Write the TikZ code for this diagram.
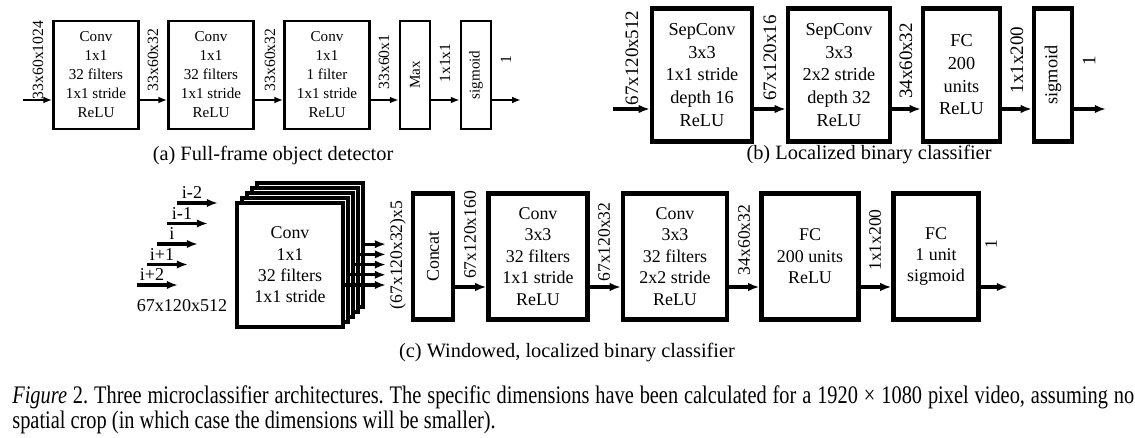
\documentclass[tikz,border=0pt]{standalone}
\usepackage{fontspec}
\setmainfont{Liberation Serif}
\usetikzlibrary{arrows.meta}
\tikzset{%
    box size/.style 2 args={%
        minimum width=#1*0.02cm,
        minimum height=#2*0.02cm
    },
    layer a/.style={draw, fill=white, line width=1.4pt, inner sep=0pt, align=center,
        font=\fontsize{8.6}{10.8}\selectfont},
    layer b/.style={draw, fill=white, line width=2.4pt, inner sep=0pt, align=center,
        font=\fontsize{10.4}{12.9}\selectfont},
    layer c/.style={draw, fill=white, line width=2.3pt, inner sep=0pt, align=center,
        font=\fontsize{10.2}{12.2}\selectfont},
    arrow a/.style={-{Latex[length=5pt, width=3.8pt]}, line width=1.3pt},
    arrow b/.style={-{Latex[length=6.4pt, width=4.8pt]}, line width=2pt},
    arrow c/.style={-{Latex[length=6.4pt, width=4.8pt]}, line width=1.8pt},
    dim a/.style={rotate=90, inner sep=0pt, font=\fontsize{8.9}{10}\selectfont},
    dim b/.style={rotate=90, inner sep=0pt, font=\fontsize{10.8}{12}\selectfont},
    dim c/.style={rotate=90, inner sep=0pt, font=\fontsize{10}{12}\selectfont},
    frame lab/.style={inner sep=0pt, font=\fontsize{10.3}{12}\selectfont},
    sub cap/.style={inner sep=0pt, font=\fontsize{11.6}{13}\selectfont},
    fig cap/.style={inner sep=0pt, text width=22.44cm, align=justify,
        yscale=1.24, transform shape,
        font=\fontsize{11.6}{10.5}\selectfont\frenchspacing}
}

\begin{document}
\begin{tikzpicture}[x=0.02cm, y=-0.02cm]
\fill[white] (0,0) rectangle (1135,438);

% (a) full-frame object detector
\coordinate (ya) at (0,100);
\node[layer a, box size={85}{108}] (a1) at (96,75) {Conv\\1x1\\32 filters\\1x1 stride\\ReLU};
\node[layer a, box size={85}{108}] (a2) at (211,75) {Conv\\1x1\\32 filters\\1x1 stride\\ReLU};
\node[layer a, box size={85}{108}] (a3) at (327,75) {Conv\\1x1\\1 filter\\1x1 stride\\ReLU};
\node[layer a, box size={30}{108}] (a4) at (415,75) {\rotatebox{90}{Max}};
\node[layer a, box size={30}{108}] (a5) at (476,75) {\rotatebox{90}{sigmoid}};
\coordinate (ain) at (23,100);
\coordinate (aout) at (521,100);
\draw[arrow a] (ain) -- (a1.west |- ya);
\foreach \i [count=\j from 2] in {1,...,4}
    \draw[arrow a] (a\i.east |- ya) -- (a\j.west |- ya);
\draw[arrow a] (a5.east |- ya) -- (aout);
\node[dim a] (da0) at (38,60) {33x60x1024};
\node[dim a] (da1) at (153,60) {33x60x32};
\node[dim a] (da2) at (270,60) {33x60x32};
\node[dim a] (da3) at (384,62) {33x60x1};
\node[dim a] (da4) at (445,63) {1x1x1};
\node[dim a] (da5) at (506,60) {1};
\node[sub cap] (capa) at (273,155) {(a) Full-frame object detector};

% (b) localized binary classifier
\coordinate (yb) at (0,109);
\node[layer b, box size={100}{133}] (b1) at (702,75) {SepConv\\3x3\\1x1 stride\\depth 16\\ReLU};
\node[layer b, box size={102}{133}] (b2) at (839,75) {SepConv\\3x3\\2x2 stride\\depth 32\\ReLU};
\node[layer b, box size={77}{133}] (b3) at (961.5,75) {FC\\200\\units\\ReLU};
\node[layer b, box size={38}{133}] (b4) at (1053,75) {\rotatebox{90}{sigmoid}};
\coordinate (bin) at (613,109);
\coordinate (bout) at (1106,109);
\draw[arrow b] (bin) -- (b1.west |- yb);
\foreach \i [count=\j from 2] in {1,...,3}
    \draw[arrow b] (b\i.east |- yb) -- (b\j.west |- yb);
\draw[arrow b] (b4.east |- yb) -- (bout);
\node[dim b] (db0) at (632,58) {67x120x512};
\node[dim b] (db1) at (770,58) {67x120x16};
\node[dim b] (db2) at (906,61) {34x60x32};
\node[dim b] (db3) at (1017,60) {1x1x200};
\node[dim b] (db4) at (1089,61) {1};
\node[sub cap] (capb) at (869,155) {(b) Localized binary classifier};

% (c) windowed, localized binary classifier
\foreach \lab [count=\k from 0] in {i+2,i+1,i,i-1,i-2} {
    \pgfmathsetmacro\xx{137+10*\k}
    \pgfmathsetmacro\yy{285-20.5*\k}
    \coordinate (in\k) at (\xx,\yy);
    \draw[arrow c] (in\k) -- ++(41,0) coordinate (ie\k);
    \node[frame lab, anchor=base] (li\k) at ([shift={(15,-4)}]in\k) {\lab};
}
\node[frame lab] (lin) at (182,306) {67x120x512};
\foreach \k in {4,...,1}
    \node[layer c, box size={106}{124}] (s\k) at ({290+5*\k},{265-5*\k}) {};
\node[layer c, box size={106}{124}, font=\fontsize{10.2}{12.1}\selectfont] (s0) at (290,265)
    {Conv\\1x1\\32 filters\\1x1 stride};
\foreach \k [evaluate=\k as \yy using 285-10.2*\k] in {0,...,4}
    \draw[arrow c] (s\k.east |- 0,\yy) -- (386,\yy) coordinate (so\k);
\node[dim c] (dc0) at (398,255) {(67x120x32)x5};

\coordinate (yc) at (0,287);
\node[layer c, box size={40}{126}] (c0) at (433,256.5) {\rotatebox{90}{Concat}};
\node[layer c, box size={99}{126}] (c1) at (538,256.5) {Conv\\3x3\\32 filters\\1x1 stride\\ReLU};
\node[layer c, box size={104}{126}] (c2) at (675,256.5) {Conv\\3x3\\32 filters\\2x2 stride\\ReLU};
\node[layer c, box size={97}{126}] (c3) at (810,256.5) {FC\\200 units\\ReLU};
\node[layer c, box size={85}{126}] (c4) at (936,256.5) {FC\\1 unit\\sigmoid};
\coordinate (cout) at (1008,287);
\foreach \i [count=\j from 1] in {0,...,3}
    \draw[arrow c] (c\i.east |- yc) -- (c\j.west |- yc);
\draw[arrow c] (c4.east |- yc) -- (cout);
\node[dim c] (dc1) at (470,235) {67x120x160};
\node[dim c] (dc2) at (604,242) {67x120x32};
\node[dim c] (dc3) at (744,240) {34x60x32};
\node[dim c] (dc4) at (875,240) {1x1x200};
\node[dim c] (dc5) at (991,244) {1};
\node[sub cap] (capc) at (567,353) {(c) Windowed, localized binary classifier};

% figure caption
\node[fig cap, anchor=base west] (capfig) at (12,403) {\textit{Figure} 2. Three microclassifier
    architectures. The specific dimensions have been calculated for a 1920 × 1080 pixel video,
    assuming no\linebreak spatial crop (in which case the dimensions will be smaller).};
\end{tikzpicture}
\end{document}
